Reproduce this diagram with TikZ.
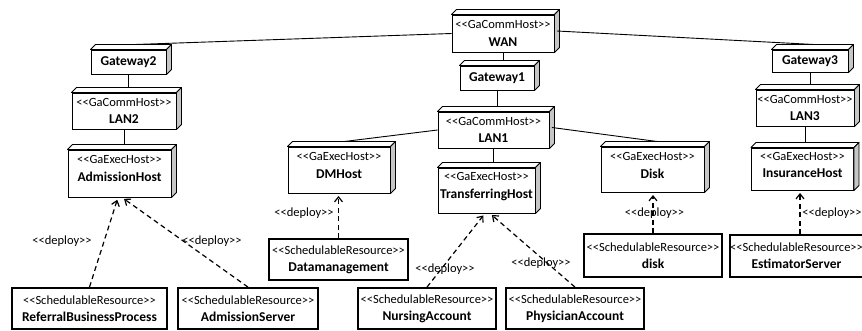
\documentclass[tikz,border=0pt]{standalone}
\usepackage{fontspec}
\setmainfont{Carlito}[Ligatures=TeXOff]
\usetikzlibrary{arrows.meta}
\tikzset{
  front/.style={draw, fill=white, line width=0.9pt, inner sep=0pt},
  face/.style={draw, fill=white, line width=0.9pt, line join=round},
  sideface/.style={draw, fill=gray!45, line width=0.9pt, line join=round},
  lbl/.style={align=center, inner sep=0pt, font=\fontsize{12.5}{17.5}\selectfont},
  srbox/.style={draw, fill=white, line width=1.8pt, inner sep=0pt, align=center, font=\fontsize{12.5}{17}\selectfont},
  conn/.style={line width=0.9pt},
  deploy/.style={line width=1.2pt, dash pattern=on 5pt off 3.5pt, -{Straight Barb[length=5pt,width=8pt,line width=1.2pt]}, shorten >=2.5pt},
  dlbl/.style={inner sep=0pt, font=\fontsize{12.5}{14}\selectfont}
}
\newcommand\nm[1]{{\fontsize{13.5}{17}\selectfont\bfseries #1}}
\newcommand\mkhost[7]{%
  \node[front, minimum width=#4pt, minimum height=#5pt] (#1) at (#2,#3) {};
  \draw[face] (#1.north west) -- ++(5,-5) -- ([shift={(5,-5)}]#1.north east) -- (#1.north east) -- cycle;
  \draw[sideface] (#1.north east) -- ++(5,-5) -- ([shift={(5,-5)}]#1.south east) -- (#1.south east) -- cycle;
  \coordinate (#1-tb) at ([shift={(5,-5)}]#1.north);
  \node[lbl] (#1-t) at ([yshift=#6pt]#1.center) {#7};
}
\begin{document}
\begin{tikzpicture}[x=1pt,y=-1pt]
\useasboundingbox (0,0) rectangle (862,331);

% hosts
\mkhost{wan}{503}{33.5}{102}{37}{0}{<<GaCommHost>>\\\nm{WAN}}
\mkhost{gw1}{497}{78}{74}{24}{0}{\nm{Gateway1}}
\mkhost{lan1}{493.5}{130}{111}{36}{0}{<<GaCommHost>>\\\nm{LAN1}}
\mkhost{gw2}{128.5}{62}{75}{24}{0}{\nm{Gateway2}}
\mkhost{lan2}{124}{111}{104}{36}{0}{<<GaCommHost>>\\\nm{LAN2}}
\mkhost{admh}{119.5}{173.5}{103}{47}{5}{<<GaExecHost>>\\\nm{AdmissionHost}}
\mkhost{gw3}{810}{61}{76}{22}{0}{\nm{Gateway3}}
\mkhost{lan3}{805}{108}{98}{36}{0}{<<GaCommHost>>\\\nm{LAN3}}
\mkhost{ins}{802.5}{169}{102}{42}{4}{<<GaExecHost>>\\\nm{InsuranceHost}}
\mkhost{disk}{652.5}{169.5}{103}{45}{4}{<<GaExecHost>>\\\nm{Disk}}
\mkhost{dmh}{339}{170}{102}{46}{4.5}{<<GaExecHost>>\\\nm{DMHost}}
\mkhost{trh}{486.5}{190.5}{97}{45}{4}{<<GaExecHost>>\\\nm{TransferringHost}}

% schedulable resources
\node[srbox, minimum width=155pt, minimum height=41pt] (rbp) at (89.5,308.5) {<<SchedulableResource>>\\\nm{ReferralBusinessProcess}};
\node[srbox, minimum width=140pt, minimum height=41pt] (as) at (248,308.5) {<<SchedulableResource>>\\\nm{AdmissionServer}};
\node[srbox, minimum width=138pt, minimum height=41pt] (nur) at (427,308.5) {<<SchedulableResource>>\\\nm{NursingAccount}};
\node[srbox, minimum width=138pt, minimum height=41pt] (phy) at (575,308.5) {<<SchedulableResource>>\\\nm{PhysicianAccount}};
\node[srbox, minimum width=139pt, minimum height=41pt] (dm) at (338.5,259.5) {<<SchedulableResource>>\\\nm{Datamanagement}};
\node[srbox, minimum width=138pt, minimum height=43pt] (dsk) at (653,255.5) {<<SchedulableResource>>\\\nm{disk}};
\node[srbox, minimum width=129pt, minimum height=42pt] (est) at (796.5,256) {<<SchedulableResource>>\\\nm{EstimatorServer}};

% solid connectors
\draw[conn] (wan.west) -- (gw2-tb);
\draw[conn] ([shift={(2.5,-2.5)}]wan.east) -- (gw3-tb);
\draw[conn] (wan.south) -- (wan.south |- gw1-tb);
\draw[conn] (gw1.south) -- (gw1.south |- lan1-tb);
\draw[conn] (lan1.west) -- (dmh-tb);
\draw[conn] ([shift={(2.5,-2.5)}]lan1.east) -- (disk-tb);
\draw[conn] (lan1.south) -- (lan1.south |- trh-tb);
\draw[conn] (gw2.south) -- (gw2.south |- lan2-tb);
\draw[conn] (lan2.south) -- (lan2.south |- admh-tb);
\draw[conn] (gw3.south) -- (gw3.south |- lan3-tb);
\draw[conn] (lan3.south) -- (lan3.south |- ins-tb);

% deploy dependencies
\draw[deploy] (rbp.north) -- ([xshift=-1.5pt]admh.south);
\draw[deploy] (as.north) -- ([xshift=2.5pt]admh.south);
\draw[deploy] (dm.north) -- (dm.north |- dmh.south);
\draw[deploy] (nur.north) -- ([xshift=-1.5pt]trh.south);
\draw[deploy] (phy.north) -- ([xshift=3.5pt]trh.south);
\draw[deploy] (dsk.north) -- (dsk.north |- disk.south);
\coordinate (estTop) at ([xshift=3.5pt]est.north);
\draw[deploy] (estTop) -- (estTop |- ins.south);

% deploy labels
\node[dlbl] (d1) at (62,241) {<<deploy>>};
\node[dlbl] (d2) at (212,241) {<<deploy>>};
\node[dlbl] (d3) at (304,213) {<<deploy>>};
\node[dlbl] (d4) at (445,269) {<<deploy>>};
\node[dlbl] (d5) at (541,263) {<<deploy>>};
\node[dlbl] (d6) at (654.5,213) {<<deploy>>};
\node[dlbl] (d7) at (832,213) {<<deploy>>};
\end{tikzpicture}
\end{document}
